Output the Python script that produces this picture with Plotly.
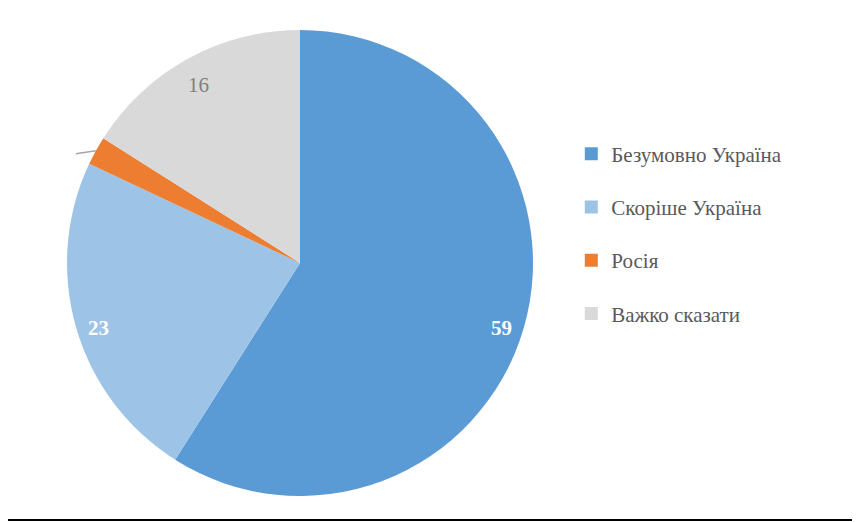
import math
import plotly.graph_objects as go

# Data
categories = ["Безумовно Україна", "Скоріше Україна", "Росія", "Важко сказати"]
values = [59, 23, 2, 16]
colors = ["#5B9BD5", "#9DC3E6", "#ED7D31", "#D9D9D9"]
label_colors = ["#FFFFFF", "#FFFFFF", None, "#808080"]
label_bold = [True, True, False, False]

W, H = 860, 522
OFF = 8  # page body margin, compensate so the picture lands where the reference has it
# pie geometry in figure pixels
CX, CY, R = 300 - OFF, 263 - OFF, 233
SERIF = "'Liberation Serif', 'DejaVu Serif', serif"

fig = go.Figure(go.Pie(
    labels=categories,
    values=values,
    marker=dict(colors=colors, line=dict(width=0)),
    sort=False,
    direction="clockwise",
    rotation=0,
    textinfo="none",
    hoverinfo="label+value",
    showlegend=False,
    domain=dict(x=[(CX - R) / W, (CX + R) / W], y=[1 - (CY + R) / H, 1 - (CY - R) / H]),
))

# legend entries (empty traces, one group each so the gap spreads them out)
for name, col in zip(categories, colors):
    fig.add_trace(go.Scatter(
        x=[None], y=[None], mode="markers", name=name, legendgroup=name,
        marker=dict(symbol="square", size=13, color=col),
        hoverinfo="skip",
    ))

# data labels near the outer edge of each slice
total = sum(values)
cum = 0
for v, col, bold in zip(values, label_colors, label_bold):
    theta = math.radians(360 * (cum + v / 2) / total)
    cum += v
    if col is None:
        # small slice: leader line only
        x0 = CX + R * math.sin(theta)
        y0 = CY - R * math.cos(theta)
        fig.add_shape(type="line", xref="paper", yref="paper",
                      x0=x0 / W, y0=1 - y0 / H, x1=(x0 - 20) / W, y1=1 - (y0 + 3) / H,
                      line=dict(color="#A6A6A6", width=1.5))
        continue
    rr = 0.9 * R
    x = CX + rr * math.sin(theta)
    y = CY - rr * math.cos(theta) + 6
    txt = f"<b>{v}</b>" if bold else str(v)
    fig.add_annotation(x=x / W, y=1 - y / H, xref="paper", yref="paper",
                       xanchor="center", yanchor="middle",
                       text=txt, showarrow=False,
                       font=dict(family=SERIF, size=21, color=col))

# bottom border line
yb = 1 - (520 - OFF) / H
fig.add_shape(type="line", xref="paper", yref="paper", x0=0, x1=1, y0=yb, y1=yb,
              line=dict(color="#000000", width=2))

fig.update_xaxes(visible=False)
fig.update_yaxes(visible=False)

fig.update_layout(
    width=W, height=H,
    margin=dict(l=0, r=0, t=0, b=0),
    paper_bgcolor="white",
    plot_bgcolor="white",
    font=dict(family=SERIF),
    showlegend=True,
    legend=dict(
        x=0.655, y=0.567, xanchor="left", yanchor="middle",
        font=dict(family=SERIF, size=21, color="#595959"),
        tracegroupgap=23,
        itemwidth=30,
    ),
)

fig.write_html("out.html")
